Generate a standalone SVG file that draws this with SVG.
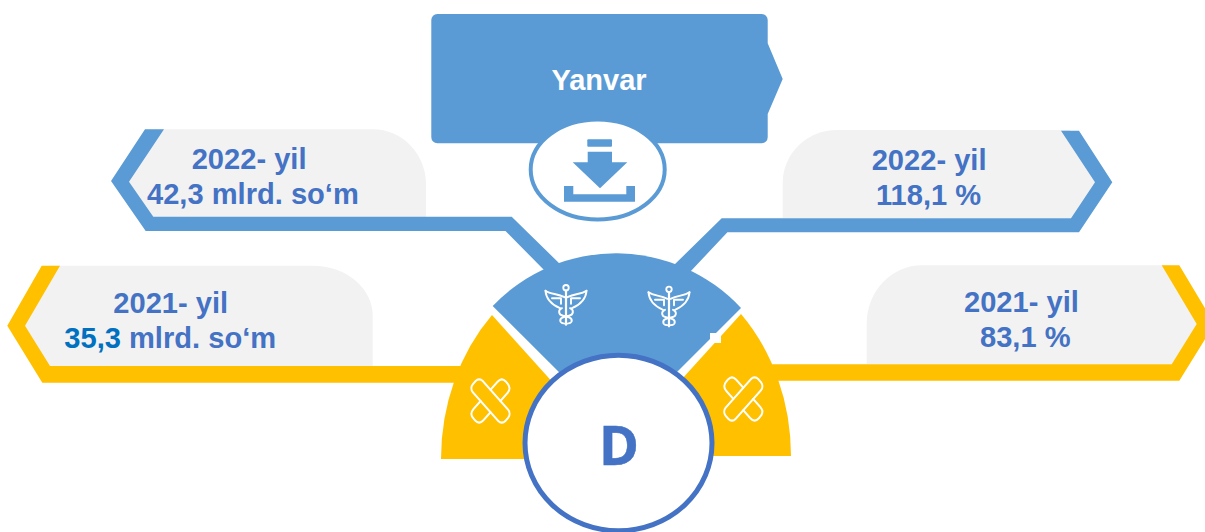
<svg xmlns="http://www.w3.org/2000/svg" width="1205" height="532" viewBox="0 0 1205 532">
<style>
.panel{fill:#f2f2f2}
.blue{fill:#5b9bd5}
.gold{fill:#ffc000}
.t{font-family:"Liberation Sans",Arial,sans-serif;font-weight:700;font-size:29.100px;fill:#4472c4}
.ln{fill:none;stroke:#fff;stroke-width:1.900;stroke-linejoin:round;stroke-linecap:round}
</style>
<defs>
<g id="caduceus" class="ln">
<circle cx="0" cy="0" r="2.700"/>
<path d="M0,2.700V37" stroke-width="2.200"/>
<path d="M-20.500,3C-15,7 -9,5.500 -1.500,9.500M20.500,3C15,7 9,5.500 1.500,9.500"/>
<path d="M-20.500,3C-20,11 -14,17 -6,20.500M20.500,3C20,11 14,17 6,20.500"/>
<path d="M-14,10.500H-5L-5,16M14,10.500H5L5,16"/>
<path d="M-4,20.500C-8,22 -8,27 -3,28C2,29 7,30 5.500,34C4.500,36 2,36 0,36M4,20.500C8,22 8,27 3,28C-2,29 -7,30 -5.500,34C-4.500,36 -2,36 0,36"/>
</g>
<g id="plaster" class="ln">
<g transform="rotate(45)">
<rect x="-23" y="-7" width="46" height="14" rx="5"/>
<path d="M-7,-7V-17Q-7,-23 -1,-23H1Q7,-23 7,-17V-7"/>
<path d="M-7,7V17Q-7,23 -1,23H1Q7,23 7,17V7"/>
</g>
</g>
</defs>

<g id="panel-2022-left"><path class="panel" d="M145,129.300H373A53,55 0 0 1 426,185V217H153L120,181Z"/></g>
<g id="panel-2021-left"><path class="panel" d="M50,265.700H313A60,50 0 0 1 372.700,316V366H50L16,325Z"/></g>
<g id="panel-2022-right"><path class="panel" d="M1070,130H836.700A54,53 0 0 0 782.700,183V218H1075L1104,182Z"/></g>
<g id="panel-2021-right"><path class="panel" d="M1170,265.300H921.700A55,58 0 0 0 866.700,323V364.300H1175L1205,324Z"/></g>

<g id="connectors">
<path class="blue" d="M145,129.300H164L129,181.700L153.300,216.700H511.700L562,266L546,272L505.500,231H145.700L111,181Z"/>
<path class="blue" d="M1061,130.700H1079L1112.300,182.300L1079,232.300H727.400L690,272L673,266L721.700,218.300H1071L1095,182.300Z"/>
<path class="gold" d="M41.700,265.700H60L25,325.700L50,366H470V382.700H42.300L7.300,325.700Z"/>
<path class="gold" d="M1161.700,265.300H1179.300L1214.500,324L1179.300,380.700H760V364.300H1171.700L1196.700,324Z"/>
</g>

<g id="sector-left"><path class="gold" d="M492,315A177,205 0 0 0 441,459H621.700Z"/></g>
<g id="sector-right"><path class="gold" d="M741,314A173,202 0 0 1 791,456H612Z"/></g>
<g id="sector-top"><path class="blue" d="M492.700,306A170.500,170.500 0 0 1 741,308L618,431Z"/></g>
<rect x="710" y="333" width="11" height="10" fill="#fff"/>

<g id="icon-caduceus-left"><use href="#caduceus" x="566" y="287.700"/></g>
<g id="icon-caduceus-right"><use href="#caduceus" x="669" y="289.300"/></g>
<g id="icon-plaster-left"><use href="#plaster" transform="translate(490.500,401) scale(1,1.130)"/></g>
<g id="icon-plaster-right"><use href="#plaster" transform="translate(743.300,399) scale(-1,1.130)"/></g>

<g id="node-yanvar">
<path class="blue" d="M437.300,14H761.700A6,6 0 0 1 767.700,20V43.300L782.700,79L767.700,114V137.300A6,6 0 0 1 761.700,143.300H437.300A6,6 0 0 1 431.300,137.300V20A6,6 0 0 1 437.300,14Z"/>
<text x="551.500" y="90" class="t" style="font-size:29px;fill:#fff">Yanvar</text>
</g>

<g id="node-download">
<ellipse cx="597.700" cy="169.500" rx="67" ry="50" fill="#fff" stroke="#5b9bd5" stroke-width="4"/>
<rect class="blue" x="587.300" y="139.300" width="24.700" height="7.400" rx="1"/>
<path class="blue" d="M587.700,151.700H612V162.300H627.300L600,188.300L572.700,162.300H587.700Z"/>
<path class="blue" d="M564,186H573.300V194.300H626.300V186H635V201.700H564Z"/>
</g>

<g id="node-d">
<ellipse cx="618.500" cy="443" rx="93.500" ry="87.800" fill="#fff" stroke="#4472c4" stroke-width="5"/>
<text x="599" y="465" style="font-family:'Open Sans','Liberation Sans',sans-serif;font-weight:700;font-size:54px;fill:#4472c4;stroke:#4472c4;stroke-width:.6">D</text>
</g>

<g id="label-2022-left">
<text x="191.700" y="169.300" class="t">2022- yil</text>
<text x="147" y="204" class="t">42,3 mlrd. so‘m</text>
</g>
<g id="label-2021-left">
<text x="113.300" y="313.300" class="t">2021- yil</text>
<text x="64.300" y="348.300" class="t"><tspan style="fill:#0070c0">35,3</tspan> mlrd. so‘m</text>
</g>
<g id="label-2022-right">
<text x="871.700" y="170" class="t">2022- yil</text>
<text x="876" y="205" class="t">118,1 %</text>
</g>
<g id="label-2021-right">
<text x="964" y="312.300" class="t">2021- yil</text>
<text x="980" y="347.300" class="t">83,1 %</text>
</g>
</svg>
